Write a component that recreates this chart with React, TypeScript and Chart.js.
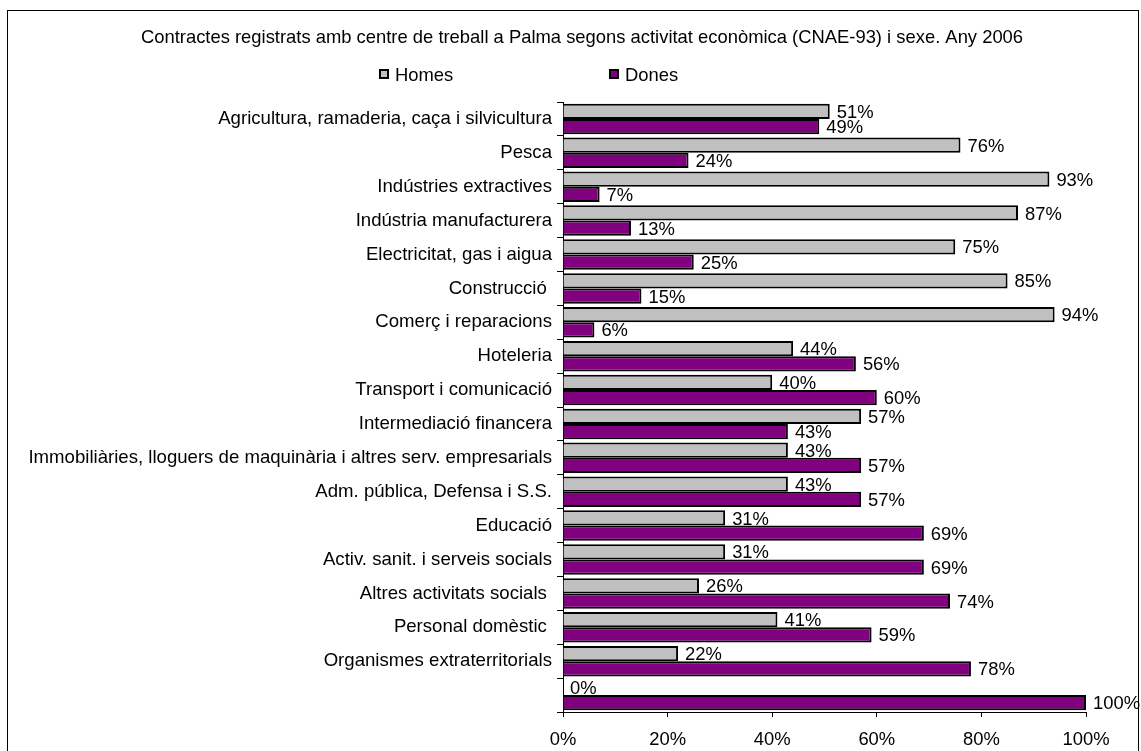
import React, { useEffect, useRef } from "react";
import { Chart, registerables } from "chart.js";

Chart.register(...registerables);

const TITLE =
  "Contractes registrats amb centre de treball a Palma segons activitat econòmica (CNAE-93) i sexe. Any 2006";

const CATEGORIES = [
  "Agricultura, ramaderia, caça i silvicultura",
  "Pesca",
  "Indústries extractives",
  "Indústria manufacturera",
  "Electricitat, gas i aigua",
  "Construcció ",
  "Comerç i reparacions",
  "Hoteleria",
  "Transport i comunicació",
  "Intermediació financera",
  "Immobiliàries, lloguers de maquinària i altres serv. empresarials",
  "Adm. pública, Defensa i S.S.",
  "Educació",
  "Activ. sanit. i serveis socials",
  "Altres activitats socials ",
  "Personal domèstic ",
  "Organismes extraterritorials",
  "",
];

const HOMES = [51, 76, 93, 87, 75, 85, 94, 44, 40, 57, 43, 43, 31, 31, 26, 41, 22, 0];
const DONES = [49, 24, 7, 13, 25, 15, 6, 56, 60, 43, 57, 57, 69, 69, 74, 59, 78, 100];

const SERIES_NAMES = ["Homes", "Dones"];
const SERIES_COLORS = ["#C0C0C0", "#800080"];

const X_MIN = 0;
const X_MAX = 100;
const X_STEP = 20;

const FONT_FAMILY = '"Liberation Sans", Arial, Helvetica, sans-serif';
const FS = 18.4;
const FS_CAT = 18.6;

const decorPlugin = {
  id: "decor",
  beforeDraw(chart: any) {
    const ctx = chart.ctx;
    ctx.save();
    ctx.fillStyle = "#ffffff";
    ctx.fillRect(0, 0, chart.width, chart.height);
    ctx.restore();
  },
  afterDatasetsDraw(chart: any) {
    const ctx = chart.ctx;
    ctx.save();
    ctx.font = `${FS}px ${FONT_FAMILY}`;
    ctx.fillStyle = "#000";
    ctx.textAlign = "left";
    ctx.textBaseline = "alphabetic";
    chart.data.datasets.forEach((ds: any, di: number) => {
      const meta = chart.getDatasetMeta(di);
      meta.data.forEach((el: any, i: number) => {
        const v = ds.data[i];
        ctx.fillText(`${v}%`, el.x + 7, el.y + 0.358 * FS);
      });
    });
    ctx.restore();
  },
  afterDraw(chart: any) {
    const ctx = chart.ctx;
    ctx.save();
    // outer frame
    ctx.strokeStyle = "#000";
    ctx.lineWidth = 1;
    ctx.strokeRect(7.5, 10.5, 1131, 800);
    // title
    ctx.font = `${FS}px ${FONT_FAMILY}`;
    ctx.fillStyle = "#000";
    ctx.textAlign = "center";
    ctx.textBaseline = "alphabetic";
    ctx.fillText(TITLE, 582, 43);
    // legend
    chart.data.datasets.forEach((ds: any, i: number) => {
      const x = 379 + i * 230;
      const y = 69;
      ctx.fillStyle = ds.backgroundColor;
      ctx.fillRect(x, y, 10, 10);
      ctx.strokeStyle = "#000";
      ctx.lineWidth = 2;
      ctx.strokeRect(x + 1, y + 1, 8, 8);
      ctx.fillStyle = "#000";
      ctx.textAlign = "left";
      ctx.fillText(ds.label, x + 16, 81);
    });
    ctx.restore();
  },
};

export default function App() {
  const ref = useRef<HTMLCanvasElement | null>(null);

  useEffect(() => {
    if (!ref.current) return;
    const chart = new Chart(ref.current, {
      type: "bar",
      data: {
        labels: CATEGORIES,
        datasets: [
          {
            label: SERIES_NAMES[0],
            data: HOMES,
            backgroundColor: SERIES_COLORS[0],
            borderColor: "#000",
            borderWidth: 2,
            categoryPercentage: 0.9,
            barPercentage: 1,
          },
          {
            label: SERIES_NAMES[1],
            data: DONES,
            backgroundColor: SERIES_COLORS[1],
            borderColor: "#000",
            borderWidth: 2,
            categoryPercentage: 0.9,
            barPercentage: 1,
          },
        ],
      },
      options: {
        indexAxis: "y",
        responsive: false,
        animation: false,
        layout: { padding: { left: 8, right: 55, top: 102, bottom: 0 } },
        plugins: {
          legend: { display: false },
          title: { display: false },
          tooltip: { enabled: false },
        },
        scales: {
          x: {
            min: X_MIN,
            max: X_MAX,
            ticks: {
              stepSize: X_STEP,
              callback: (v: any) => `${v}%`,
              color: "#000",
              font: { size: FS, family: FONT_FAMILY },
              padding: 12,
              maxRotation: 0,
            },
            grid: {
              drawOnChartArea: false,
              drawTicks: true,
              tickLength: 5,
              color: "#000",
            },
            border: { display: true, color: "#000", width: 1 },
            afterFit: (s: any) => {
              s.height = 39;
            },
          },
          y: {
            ticks: {
              color: "#000",
              font: { size: FS_CAT, family: FONT_FAMILY },
              padding: 5,
              autoSkip: false,
            },
            grid: {
              drawOnChartArea: false,
              drawTicks: true,
              tickLength: 6,
              color: "#000",
              offset: true,
            },
            border: { display: true, color: "#000", width: 1 },
            afterFit: (s: any) => {
              s.width = 563 - 8;
            },
          },
        },
      },
      plugins: [decorPlugin],
    });
    return () => chart.destroy();
  }, []);

  return (
    <div style={{ position: "absolute", left: 0, top: 0, width: 1141, height: 751 }}>
      <canvas ref={ref} width={1141} height={751} style={{ display: "block" }} />
    </div>
  );
}
